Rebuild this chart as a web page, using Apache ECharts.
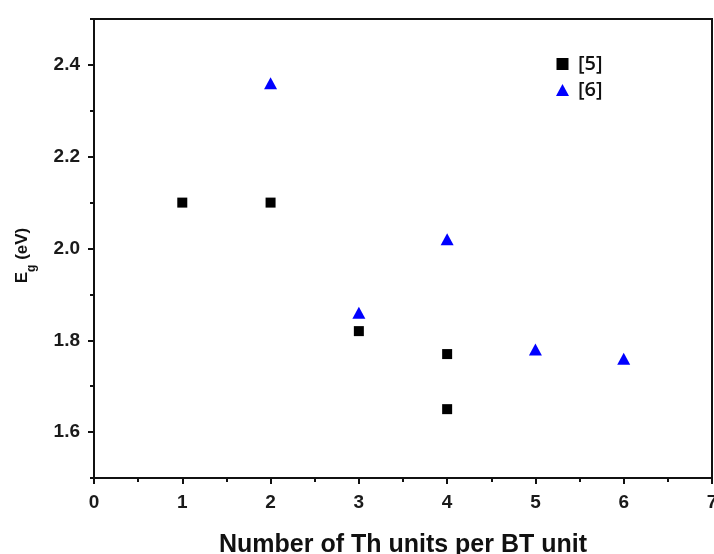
<!DOCTYPE html>
<html>
<head>
<meta charset="utf-8">
<script src="https://cdn.jsdelivr.net/npm/echarts@6/dist/echarts.min.js"></script>
<style>
  html, body { margin: 0; padding: 0; background: #fff; }
  #chart { width: 714px; height: 554px; }
</style>
</head>
<body>
<div id="chart"></div>
<script>
// Band gap vs. number of thiophene units per benzothiadiazole unit
const ref5X = [1, 2, 3, 4, 4];
const ref5Y = [2.10, 2.10, 1.82, 1.77, 1.65];
const ref6X = [2, 3, 4, 5, 6];
const ref6Y = [2.36, 1.86, 2.02, 1.78, 1.76];
const seriesNames = ['[5]', '[6]'];
const yTickValues = [1.6, 1.8, 2.0, 2.2, 2.4];

const pairs = (xs, ys) => xs.map((x, i) => [x, ys[i]]);

const tickFont = { fontFamily: 'Liberation Sans, Arial, sans-serif', fontWeight: 'bold', fontSize: 19, color: '#1a1a1a' };
const nameFont = { fontFamily: 'Liberation Sans, Arial, sans-serif', fontWeight: 'bold', fontSize: 17, color: '#111' };

const chart = echarts.init(document.getElementById('chart'), null, { renderer: 'canvas' });
chart.setOption({
  animation: false,
  backgroundColor: '#fff',
  grid: {
    left: 94, top: 19, right: 2, bottom: 76,
    outerBoundsMode: 'none',
    containLabel: false,
    show: true, borderColor: '#111', borderWidth: 2, backgroundColor: 'transparent'
  },
  legend: {
    orient: 'vertical',
    left: 551, top: 49,
    itemWidth: 13, itemHeight: 12, itemGap: 6,
    textStyle: { fontFamily: 'Open Sans, sans-serif', fontWeight: 600, fontSize: 20, color: '#111', padding: [0, 0, 0, 4] },
    data: [
      { name: seriesNames[0], icon: 'path://M1,1L9,1L9,9L1,9Z' },
      { name: seriesNames[1] }
    ]
  },
  xAxis: {
    type: 'value', min: 0, max: 7, interval: 1,
    name: 'Number of Th units per BT unit',
    nameLocation: 'middle', nameGap: 55,
    nameTextStyle: Object.assign({}, nameFont, { fontSize: 25 }),
    axisLine: { show: true, onZero: false, lineStyle: { color: '#111', width: 2 } },
    axisTick: { show: true, inside: false, length: 6, lineStyle: { color: '#111', width: 2 } },
    minorTick: { show: true, splitNumber: 2, length: 4, lineStyle: { color: '#111', width: 2 } },
    axisLabel: Object.assign({ margin: 15, showMaxLabel: true }, tickFont),
    splitLine: { show: false }
  },
  yAxis: [{
    type: 'value', min: 1.5, max: 2.5, interval: 0.1,
    name: '{m|E}{s|g}{m| (eV)}',
    nameLocation: 'middle', nameGap: 56, nameRotate: 90,
    nameTextStyle: Object.assign({}, nameFont, {
      padding: [0, 14, 0, 0],
      rich: {
        m: Object.assign({ verticalAlign: 'top', lineHeight: 24 }, nameFont),
        s: Object.assign({}, nameFont, { fontSize: 12, verticalAlign: 'bottom', lineHeight: 24 })
      }
    }),
    axisLine: { show: true, onZero: false, lineStyle: { color: '#111', width: 2 } },
    axisTick: { show: true, length: 6, customValues: yTickValues, lineStyle: { color: '#111', width: 2 } },
    axisLabel: Object.assign({ margin: 14, customValues: yTickValues, formatter: v => v.toFixed(1) }, tickFont),
    splitLine: { show: false }
  }, {
    // short ticks at the odd tenths
    type: 'value', min: 1.5, max: 2.5, interval: 0.1, position: 'left',
    axisLine: { show: false },
    axisTick: { show: true, length: 4, lineStyle: { color: '#111', width: 2 } },
    axisLabel: { show: false },
    splitLine: { show: false }
  }],
  series: [{
    name: seriesNames[0], type: 'scatter', symbol: 'rect', symbolSize: 10,
    itemStyle: { color: '#000', opacity: 1 },
    data: pairs(ref5X, ref5Y)
  }, {
    name: seriesNames[1], type: 'scatter', symbol: 'triangle', symbolSize: [13, 12],
    itemStyle: { color: '#0000ff', opacity: 1 },
    data: pairs(ref6X, ref6Y)
  }]
});
</script>
</body>
</html>
